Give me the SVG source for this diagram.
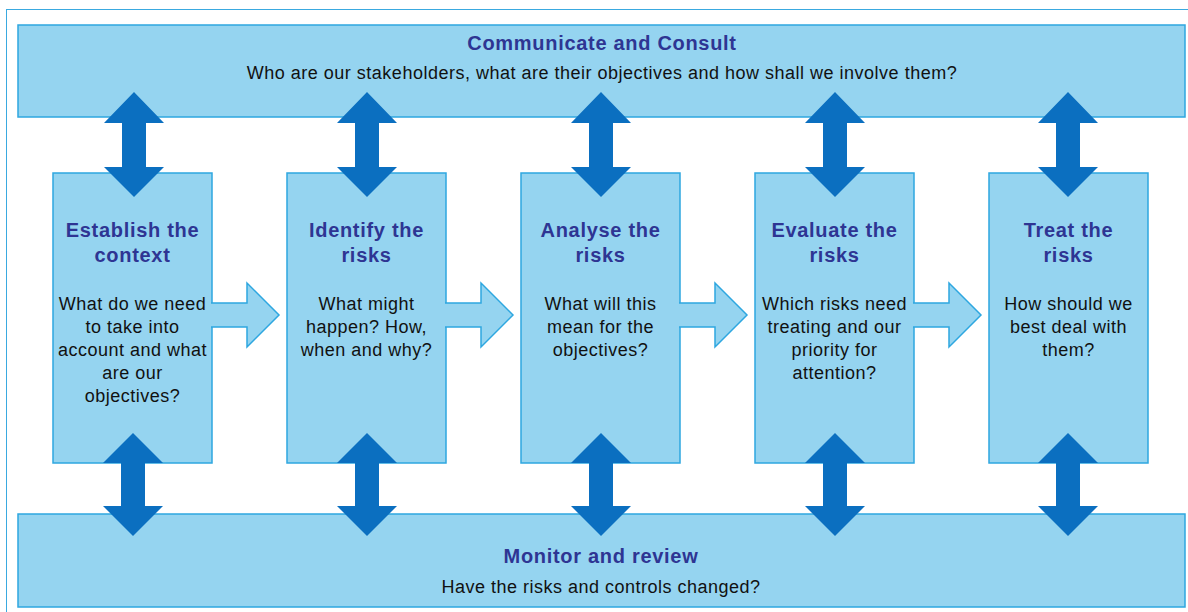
<svg xmlns="http://www.w3.org/2000/svg" xmlns:xlink="http://www.w3.org/1999/xlink" width="1188" height="612" viewBox="0 0 1188 612">
<style>
.panel{fill:#95d4f0;stroke:#2ea7e0;stroke-width:1.5}
.flow{fill:#95d4f0;stroke:#2ea7e0;stroke-width:1.5;stroke-linejoin:miter}
.dark{fill:#0b6fc0}
.ttl{font-family:"Liberation Sans",Arial,sans-serif;font-weight:bold;font-size:20px;letter-spacing:0.7px;fill:#2e3593;text-anchor:middle}
.txt{font-family:"Liberation Sans",Arial,sans-serif;font-size:18px;letter-spacing:0.5px;fill:#111111;text-anchor:middle}
</style>
<defs>
<path id="dblTop" d="M0,92 L30,123 L12,123 L12,167 L30,167 L0,197 L-30,167 L-12,167 L-12,123 L-30,123 Z"/>
<path id="dblBot" d="M0,433 L30,463 L12,463 L12,506 L30,506 L0,536 L-30,506 L-12,506 L-12,463 L-30,463 Z"/>
<path id="flowArrow" d="M-1,303 H35 V283 L67,315 L35,347 V327 H-1"/>
</defs>
<rect x="0" y="0" width="1188" height="612" fill="#ffffff"/>
<rect x="6.5" y="9.5" width="1200" height="620" fill="none" stroke="#3aa9e0" stroke-width="1"/>

<g id="communicate">
<rect class="panel" x="18" y="25" width="1167" height="92"/>
<text class="ttl" x="602" y="50">Communicate and Consult</text>
<text class="txt" x="602" y="79">Who are our stakeholders, what are their objectives and how shall we involve them?</text>
</g>

<g id="monitor">
<rect class="panel" x="18" y="514" width="1167" height="93"/>
<text class="ttl" x="601" y="563">Monitor and review</text>
<text class="txt" x="601" y="593">Have the risks and controls changed?</text>
</g>

<g id="establish">
<rect class="panel" x="53" y="173" width="159" height="290"/>
<text class="ttl" x="132.5" y="237">Establish the</text>
<text class="ttl" x="132.5" y="262">context</text>
<text class="txt" x="132.5" y="310">What do we need</text>
<text class="txt" x="132.5" y="333">to take into</text>
<text class="txt" x="132.5" y="356">account and what</text>
<text class="txt" x="132.5" y="379">are our</text>
<text class="txt" x="132.5" y="402">objectives?</text>
</g>

<g id="identify">
<rect class="panel" x="287" y="173" width="159" height="290"/>
<text class="ttl" x="366.5" y="237">Identify the</text>
<text class="ttl" x="366.5" y="262">risks</text>
<text class="txt" x="366.5" y="310">What might</text>
<text class="txt" x="366.5" y="333">happen? How,</text>
<text class="txt" x="366.5" y="356">when and why?</text>
</g>

<g id="analyse">
<rect class="panel" x="521" y="173" width="159" height="290"/>
<text class="ttl" x="600.5" y="237">Analyse the</text>
<text class="ttl" x="600.5" y="262">risks</text>
<text class="txt" x="600.5" y="310">What will this</text>
<text class="txt" x="600.5" y="333">mean for the</text>
<text class="txt" x="600.5" y="356">objectives?</text>
</g>

<g id="evaluate">
<rect class="panel" x="755" y="173" width="159" height="290"/>
<text class="ttl" x="834.5" y="237">Evaluate the</text>
<text class="ttl" x="834.5" y="262">risks</text>
<text class="txt" x="834.5" y="310">Which risks need</text>
<text class="txt" x="834.5" y="333">treating and our</text>
<text class="txt" x="834.5" y="356">priority for</text>
<text class="txt" x="834.5" y="379">attention?</text>
</g>

<g id="treat">
<rect class="panel" x="989" y="173" width="159" height="290"/>
<text class="ttl" x="1068.5" y="237">Treat the</text>
<text class="ttl" x="1068.5" y="262">risks</text>
<text class="txt" x="1068.5" y="310">How should we</text>
<text class="txt" x="1068.5" y="333">best deal with</text>
<text class="txt" x="1068.5" y="356">them?</text>
</g>

<g id="connectors">
<use href="#flowArrow" xlink:href="#flowArrow" class="flow" x="212" y="0"/>
<use href="#flowArrow" xlink:href="#flowArrow" class="flow" x="446" y="0"/>
<use href="#flowArrow" xlink:href="#flowArrow" class="flow" x="680" y="0"/>
<use href="#flowArrow" xlink:href="#flowArrow" class="flow" x="914" y="0"/>
<use href="#dblTop" xlink:href="#dblTop" class="dark" x="134" y="0"/>
<use href="#dblTop" xlink:href="#dblTop" class="dark" x="367" y="0"/>
<use href="#dblTop" xlink:href="#dblTop" class="dark" x="601" y="0"/>
<use href="#dblTop" xlink:href="#dblTop" class="dark" x="835" y="0"/>
<use href="#dblTop" xlink:href="#dblTop" class="dark" x="1068" y="0"/>
<use href="#dblBot" xlink:href="#dblBot" class="dark" x="133" y="0"/>
<use href="#dblBot" xlink:href="#dblBot" class="dark" x="367" y="0"/>
<use href="#dblBot" xlink:href="#dblBot" class="dark" x="601" y="0"/>
<use href="#dblBot" xlink:href="#dblBot" class="dark" x="835" y="0"/>
<use href="#dblBot" xlink:href="#dblBot" class="dark" x="1068" y="0"/>
</g>
</svg>
